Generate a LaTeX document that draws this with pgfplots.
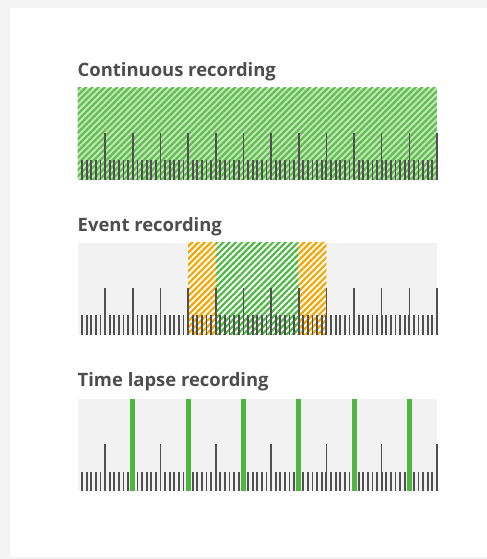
\documentclass[border=0pt]{standalone}
\usepackage{pgfplots}
\pgfplotsset{compat=1.18}
\usetikzlibrary{patterns.meta}
\usepackage{fontspec}
\newfontfamily\titlefont{Open Sans}
\definecolor{tickgray}{HTML}{505050}
\definecolor{panelgray}{HTML}{F2F2F2}
\definecolor{titlegray}{HTML}{4D4D4D}
\definecolor{contlight}{HTML}{C2E8B8}
\definecolor{contdark}{HTML}{62BC52}
\definecolor{evgreen}{HTML}{4DB842}
\definecolor{evorange}{HTML}{F6A500}
\definecolor{lapsegreen}{HTML}{4DB83D}
\definecolor{framegray}{HTML}{F3F3F3}

% one strip of the timeline: 13 hours, 6 sub-steps each
\pgfplotsset{
  strip/.style={
    scale only axis,
    width=359.5bp, height=92bp,
    xmin=0, xmax=78, ymin=0, ymax=1,
    xtick={6,12,...,78},
    minor xtick={1,...,78},
    xticklabels={}, ytick=\empty,
    xtick pos=bottom,
    tick align=inside,
    major tick length=47bp,
    minor tick length=19.5bp,
    major tick style={line width=1.6bp, tickgray},
    minor tick style={line width=1.8bp, tickgray},
    axis line style={draw=none},
    axis background/.style={fill=panelgray},
    anchor=south west,
  },
  hatch/.style 2 args={draw=none, fill=#1,
    postaction={pattern={Lines[angle=45, distance=4.4bp, line width=2.2bp]}, pattern color=#2}},
}
\newcommand\striptitle[2]{%
  \node[anchor=base west, font=\titlefont\bfseries\fontsize{18.5}{22}\selectfont,
    text=titlegray, inner sep=0pt] at (77.5bp,#1) {#2};}

\begin{document}
\begin{tikzpicture}
\useasboundingbox (0bp,0bp) rectangle (487bp,559bp);
\fill[framegray] (0bp,0bp) rectangle (487bp,559bp);
\fill[white] (10bp,2bp) rectangle (487bp,551bp);

% Continuous
\striptitle{482bp}{Continuous recording}
\begin{axis}[strip, at={(77.5bp,379bp)}, axis on top]
\addplot[hatch={contlight}{contdark}] coordinates {(0,1) (78,1)} \closedcycle;
\end{axis}

% Event
\striptitle{327bp}{Event recording}
\begin{axis}[strip, at={(77.5bp,224bp)}, axis on top]
\addplot[hatch={white}{evorange}] coordinates {(24,1) (30,1)} \closedcycle;
\addplot[hatch={white}{evgreen}] coordinates {(30,1) (48,1)} \closedcycle;
\addplot[hatch={white}{evorange}] coordinates {(48,1) (54,1)} \closedcycle;
\end{axis}

% Time lapse
\striptitle{172bp}{Time lapse recording}
\begin{axis}[strip, at={(77.5bp,68bp)}]
\addplot[ycomb, lapsegreen, line width=5bp, mark=none]
  coordinates {(12,1) (24,1) (36,1) (48,1) (60,1) (72,1)};
\end{axis}
\end{tikzpicture}
\end{document}
